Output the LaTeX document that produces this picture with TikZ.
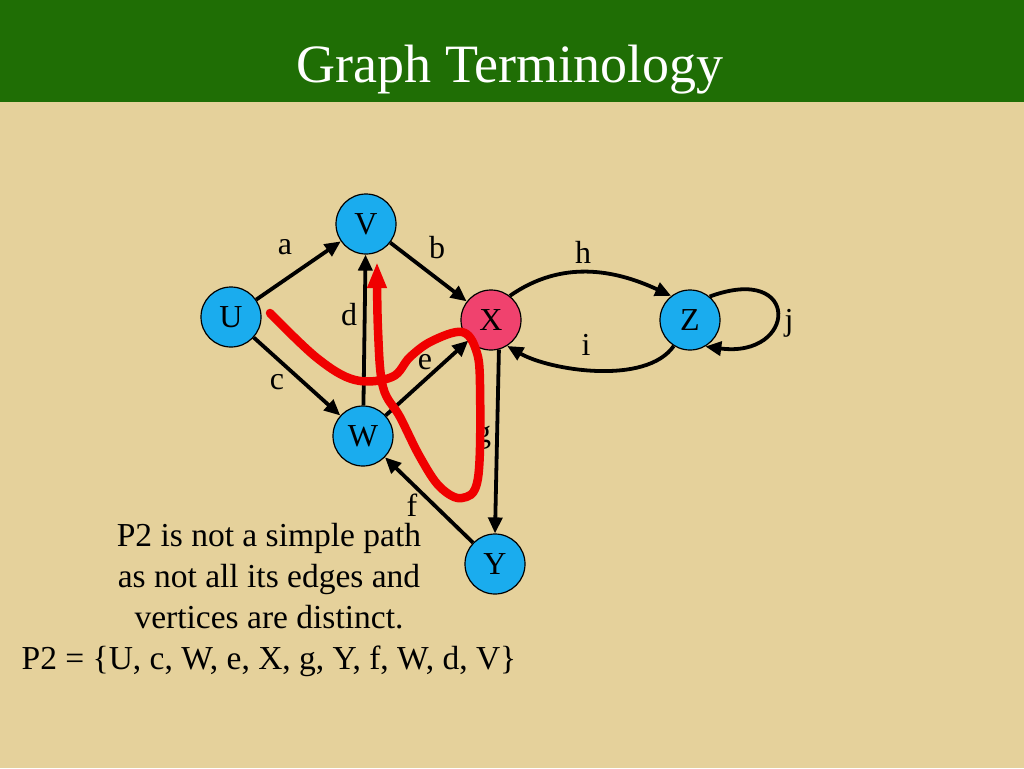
\documentclass[tikz,border=0pt]{standalone}
\usepackage{fontspec}
\setmainfont{Liberation Serif}
\usetikzlibrary{arrows.meta}
\definecolor{titlegreen}{RGB}{31,110,5}
\definecolor{slidetan}{RGB}{229,209,155}
\definecolor{vertblue}{RGB}{26,172,238}
\definecolor{vertpink}{RGB}{240,66,110}
\definecolor{pathred}{RGB}{240,0,0}
\tikzset{
    vertex/.style={circle, draw=black, line width=1.2pt, fill=vertblue,
        minimum size=60pt, inner sep=0pt, font=\fontsize{32}{38}\selectfont},
    edge/.style={line width=3.8pt, -{Triangle[length=16pt,width=14pt]}},
    elabel/.style={font=\fontsize{32}{38}\selectfont},
}
\begin{document}
\begin{tikzpicture}[x=1pt,y=1pt]
    \fill[slidetan] (0,0) rectangle (1024,-768);
    \fill[titlegreen] (0,0) rectangle (1024,-102);
    \useasboundingbox (0,0) rectangle (1024,-768);
    \node[anchor=base, text=white, font=\fontsize{54}{62}\selectfont] (title) at (510,-82) {Graph Terminology};
    % vertices
    \node[vertex] (U) at (231,-317) {U};
    \node[vertex] (V) at (366,-224) {V};
    \node[vertex, fill=vertpink] (X) at (491,-320) {X};
    \node[vertex] (Z) at (690,-320) {Z};
    \node[vertex] (W) at (363,-436) {W};
    \node[vertex] (Y) at (495,-564) {Y};
    % edges
    \draw[edge] (U) -- (V);
    \draw[edge] (V) -- (X);
    \draw[edge] (U) -- (W);
    \draw[edge] (W) -- (V);
    \draw[edge] (W) -- (X);
    \draw[edge] (Y) -- (W);
    \draw[edge] (X.-75) -- (Y.north);
    \draw[edge] (X.52) to[out=35, in=155] (Z.128);
    \draw[edge] (Z.-122) to[out=-125, in=-30, looseness=0.75] (X.-58);
    \draw[edge] (Z.50) .. controls +(92,34) and +(92,-12) .. (Z.-60);
    \node[elabel] (la) at (285,-247) {a};
    \node[elabel] (lb) at (437,-248) {b};
    \node[elabel] (lc) at (277,-382) {c};
    \node[elabel] (ld) at (349,-315) {d};
    \node[elabel] (le) at (425,-362) {e};
    \node[elabel] (lf) at (412,-505) {f};
    \node[elabel] (lg) at (483,-438) {g};
    \node[elabel] (lh) at (583,-252) {h};
    \node[elabel] (li) at (586,-345) {i};
    \node[elabel] (lj) at (789,-323) {j};
    % the path P2
    \draw[pathred, line width=8.5pt, line cap=round, line join=round,
        -{Triangle[length=26pt,width=18pt]}]
        plot[smooth, tension=0.6] coordinates {(270,-313) (317,-358) (355,-380)
        (392,-377) (410,-357) (432,-341) (462,-332) (476,-350) (480,-385)
        (478,-478) (462,-498) (440,-487) (420,-457) (400,-417) (383,-387)
        (378,-330) (377,-262)};
    \node[align=center, font=\fontsize{33.5}{40.7}\selectfont] (note) at (269,-600)
        {P2 is not a simple path\\as not all its edges and\\vertices are distinct.\\P2 = \{U, c, W, e, X, g, Y, f, W, d, V\}};
\end{tikzpicture}
\end{document}
